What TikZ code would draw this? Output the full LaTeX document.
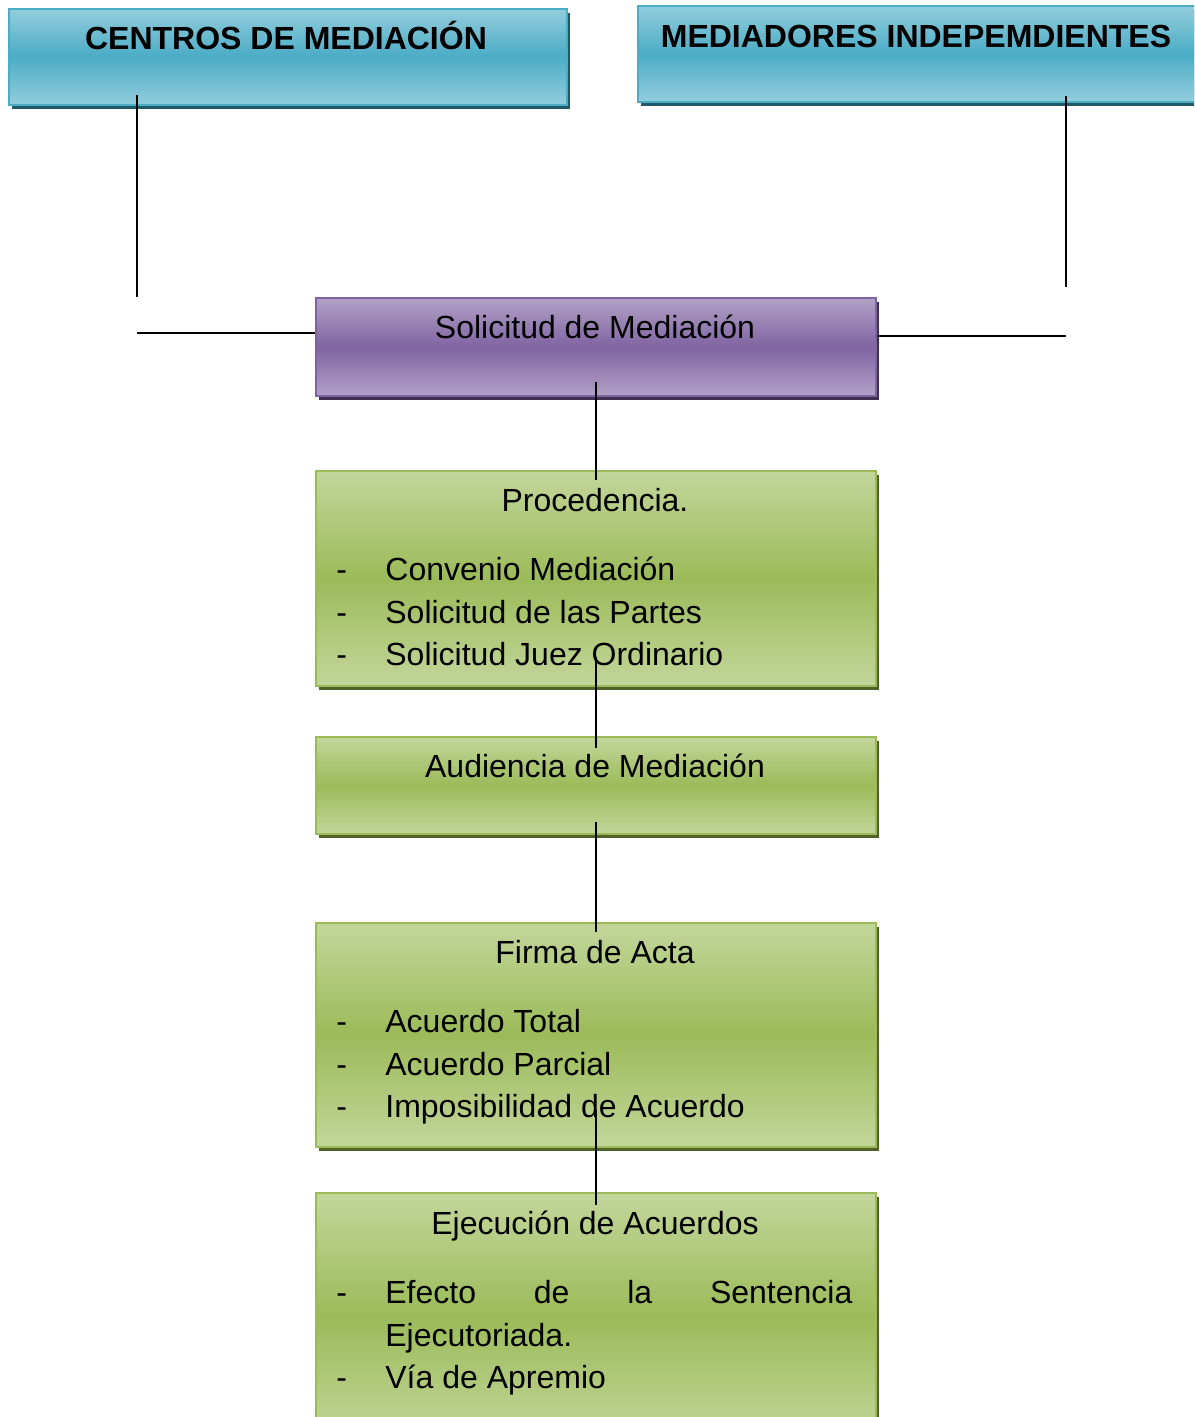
\documentclass[tikz,border=0pt]{standalone}
\usepackage{fontspec}
\setmainfont{Liberation Sans}
\usetikzlibrary{shadows}

\begin{document}
\begin{tikzpicture}[x=0.5pt,y=-0.5pt,font=\fontsize{16}{21.25}\selectfont,
  caja/.style={rectangle,inner sep=0,anchor=north west,line width=1pt,minimum width=280pt},
  cajaazul/.style={caja,draw=celeste,top color=celesteclaro,bottom color=celesteclaro,middle color=celeste,
    drop shadow={shadow xshift=1.6pt,shadow yshift=-2pt,fill=celesteoscuro,opacity=1}},
  cajamorada/.style={caja,draw=lila,top color=lilaclaro,bottom color=lilaclaro,middle color=lila,
    drop shadow={shadow xshift=1.6pt,shadow yshift=-2pt,fill=lilaoscuro,opacity=1}},
  cajaverde/.style={caja,draw=oliva,top color=olivaclaro,bottom color=olivaclaro,middle color=oliva,
    drop shadow={shadow xshift=1.6pt,shadow yshift=-2pt,fill=olivaoscuro,opacity=1}},
  titulo/.style={anchor=base,inner sep=0},
  lista/.style={anchor=base west,inner sep=0},
  enlace/.style={line width=0.75pt}]
\definecolor{celeste}{HTML}{4BACC6}
\definecolor{celesteclaro}{HTML}{93CDDD}
\definecolor{celesteoscuro}{HTML}{215968}
\definecolor{lila}{HTML}{8064A2}
\definecolor{lilaclaro}{HTML}{B2A1C7}
\definecolor{lilaoscuro}{HTML}{3F3151}
\definecolor{oliva}{HTML}{9BBB59}
\definecolor{olivaclaro}{HTML}{C3D69B}
\definecolor{olivaoscuro}{HTML}{4F6228}
\useasboundingbox (0,0) rectangle (1194,1417);
\clip (0,0) rectangle (1194,1417);

% cabeceras
\node[cajaazul,minimum width=279pt,minimum height=48pt] (centros) at (8,8) {};
\node[cajaazul,minimum width=281.5pt,minimum height=48pt] (mediadores) at (637,5) {};
\node[titulo] (tcentros) at (286,49.5) {\bfseries CENTROS DE MEDIACIÓN};
\node[titulo] (tmediadores) at (916,47.5) {\bfseries MEDIADORES INDEPEMDIENTES};

% pasos
\node[cajamorada,minimum height=49pt] (sol) at (315,297) {};
\node[cajaverde,minimum height=107.5pt] (proc) at (315,470) {};
\node[cajaverde,minimum height=48.5pt] (aud) at (315,736) {};
\node[cajaverde,minimum height=112pt] (firma) at (315,922) {};
\node[cajaverde,minimum height=124pt] (ejec) at (315,1192) {};

\node[titulo] (tsol) at (595,338.5) {Solicitud de Mediación};
\node[titulo] (tproc) at (595,511.5) {Procedencia.};
\node[lista] (lproc) at (336,580.5) {\begin{tabular}[t]{@{}p{24.5pt}@{}l@{}}
  -&Convenio Mediación\\-&Solicitud de las Partes\\-&Solicitud Juez Ordinario\end{tabular}};
\node[titulo] (taud) at (595,777.5) {Audiencia de Mediación};
\node[titulo] (tfirma) at (595,963.5) {Firma de Acta};
\node[lista] (lfirma) at (336,1032.5) {\begin{tabular}[t]{@{}p{24.5pt}@{}l@{}}
  -&Acuerdo Total\\-&Acuerdo Parcial\\-&Imposibilidad de Acuerdo\end{tabular}};
\node[titulo] (tejec) at (595,1234.5) {Ejecución de Acuerdos};
\node[lista] (lejec) at (336,1303.5) {\begin{tabular}[t]{@{}p{24.5pt}@{}p{233.5pt}@{}}
  -&Efecto de la Sentencia \mbox{Ejecutoriada.}\\-&Vía de Apremio\end{tabular}};

% conexiones
\coordinate (izq) at (137,297);
\coordinate (izqb) at (137,333);
\coordinate (der) at (1066,287);
\coordinate (derb) at (1066,336);
\draw[enlace] ([yshift=5.5pt]centros.south -| izq) -- (izq);
\draw[enlace] (izqb) -- (sol.west |- izqb);
\draw[enlace] ([yshift=3.5pt]mediadores.south -| der) -- (der);
\draw[enlace] (sol.east |- derb) -- (derb);
\foreach \a/\b/\s/\e in {sol/proc/7.5/5,proc/aud/15/6,aud/firma/6.5/5,firma/ejec/19/6.5}
  \draw[enlace] ([yshift=\s pt]\a.south) -- ([yshift=-\e pt]\b.north);
\end{tikzpicture}
\end{document}
